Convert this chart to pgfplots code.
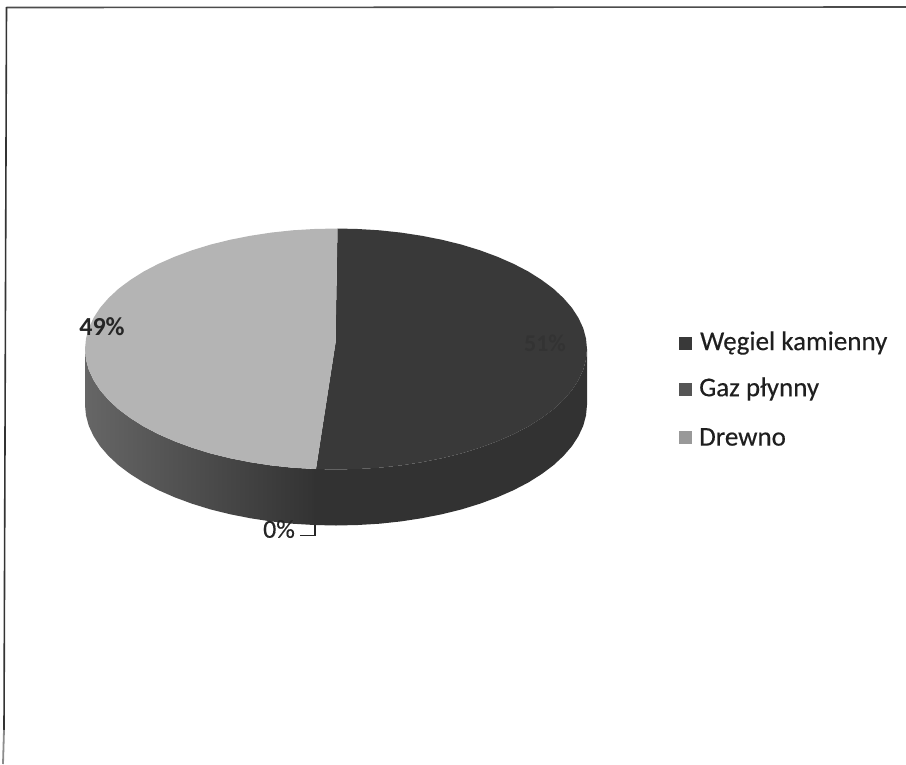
\documentclass[border=0pt]{standalone}
\usepackage{pgfplots}
\pgfplotsset{compat=1.18}
\usepackage{fontspec}
\setmainfont{Carlito}
\newfontfamily\grubszy[FakeBold=0.35]{Carlito}

\definecolor{wegiel}{HTML}{393939}
\definecolor{wegielbok}{HTML}{323232}
\definecolor{gaz}{HTML}{555555}
\definecolor{drewno}{HTML}{B4B4B4}

\begin{document}
\begin{tikzpicture}
\begin{axis}[
    width=906pt, height=764pt,
    scale only axis,
    xmin=0, xmax=906,
    ymin=0, ymax=764,
    y dir=reverse,
    hide axis,
    clip=true,
]

% ramka
\addplot[draw=none, mark=none, forget plot] coordinates {(0,0)(906,764)};
\addplot[color=black!70, line width=1.6pt, mark=none, forget plot]
    coordinates {(6.5,7.5)(906,7)};
\addplot[color=black!80, line width=1.6pt, mark=none, forget plot]
    coordinates {(6.5,7)(4,730)};
\addplot[color=black!45, line width=1.8pt, mark=none, forget plot]
    coordinates {(4,730)(3,764)};

% bok Wegiel kamienny
\addplot[fill=wegielbok, draw=none, mark=none, forget plot] coordinates {
    (587,349)(586,359.5)(583.2,369.9)(578.4,380.2)(571.9,390.2)(563.5,399.9)
    (553.4,409.3)(541.6,418.1)(528.3,426.5)(513.5,434.2)(497.3,441.3)(480,447.7)
    (461.5,453.4)(442.1,458.2)(421.8,462.2)(401,465.4)(379.6,467.7)(357.9,469)
    (336,469.5)(314.1,469)
    (314.1,525)(336,525.5)(357.9,525)(379.6,523.7)(401,521.4)(421.8,518.2)
    (442.1,514.2)(461.5,509.4)(480,503.7)(497.3,497.3)(513.5,490.2)(528.3,482.5)
    (541.6,474.1)(553.4,465.3)(563.5,455.9)(571.9,446.2)(578.4,436.2)(583.2,425.9)
    (586,415.5)(587,405)
};

% bok lewy
\addplot[left color=black!60, right color=black!80, draw=none, mark=none, forget plot] coordinates {
    (314.1,469)(292.4,467.7)(271,465.4)(250.2,462.2)(229.9,458.2)(210.5,453.4)
    (192,447.7)(174.7,441.3)(158.5,434.2)(143.7,426.5)(130.4,418.1)(118.6,409.3)
    (108.5,399.9)(100.1,390.2)(93.6,380.2)(88.8,369.9)(86,359.5)(85,349)
    (85,405)(86,415.5)(88.8,425.9)(93.6,436.2)(100.1,446.2)(108.5,455.9)
    (118.6,465.3)(130.4,474.1)(143.7,482.5)(158.5,490.2)(174.7,497.3)(192,503.7)
    (210.5,509.4)(229.9,514.2)(250.2,518.2)(271,521.4)(292.4,523.7)(314.1,525)
};

% Wegiel kamienny 51%
\addplot[fill=wegiel, draw=none, mark=none, forget plot] coordinates {
    (335.5,343)(337.5,228.5)(357.9,229)(379.6,230.3)(401,232.6)(421.8,235.8)
    (442.1,239.8)(461.5,244.6)(480,250.3)(497.3,256.7)(513.5,263.8)(528.3,271.5)
    (541.6,279.9)(553.4,288.7)(563.5,298.1)(571.9,307.8)(578.4,317.8)(583.2,328.1)
    (586,338.5)(587,349)(586,359.5)(583.2,369.9)(578.4,380.2)(571.9,390.2)
    (563.5,399.9)(553.4,409.3)(541.6,418.1)(528.3,426.5)(513.5,434.2)(497.3,441.3)
    (480,447.7)(461.5,453.4)(442.1,458.2)(421.8,462.2)(401,465.4)(379.6,467.7)
    (357.9,469)(336,469.5)(316,469)
};

% Drewno 49%
\addplot[fill=drewno, draw=none, mark=none, forget plot] coordinates {
    (335.5,343)(337.5,228.5)(336,228.5)(314.1,229)(292.4,230.3)(271,232.6)
    (250.2,235.8)(229.9,239.8)(210.5,244.6)(192,250.3)(174.7,256.7)(158.5,263.8)
    (143.7,271.5)(130.4,279.9)(118.6,288.7)(108.5,298.1)(100.1,307.8)(93.6,317.8)
    (88.8,328.1)(86,338.5)(85,349)(86,359.5)(88.8,369.9)(93.6,380.2)(100.1,390.2)
    (108.5,399.9)(118.6,409.3)(130.4,418.1)(143.7,426.5)(158.5,434.2)(174.7,441.3)
    (192,447.7)(210.5,453.4)(229.9,458.2)(250.2,462.2)(271,465.4)(292.4,467.7)
    (316,469)
};

% linia odniesienia 0%
\addplot[color=black!85, line width=1.8pt, mark=none, forget plot]
    coordinates {(300,535.5)(315,535.5)(315,525)};

% legenda
\addplot[only marks, mark=square*, mark size=6.2pt, color=wegiel, forget plot]
    coordinates {(685,343)};
\addplot[only marks, mark=square*, mark size=6.2pt, color=gaz, forget plot]
    coordinates {(685,389)};
\addplot[only marks, mark=square*, mark size=5.8pt, color=drewno!85!black, forget plot]
    coordinates {(685,437)};

\node[anchor=west, inner sep=0pt, text=black!88, font=\grubszy\fontsize{27}{31}\selectfont] at (axis cs:700,343) {Węgiel kamienny};
\node[anchor=west, inner sep=0pt, text=black!88, font=\grubszy\fontsize{27}{31}\selectfont] at (axis cs:699,389) {Gaz płynny};
\node[anchor=west, inner sep=0pt, text=black!88, font=\grubszy\fontsize{27}{31}\selectfont] at (axis cs:699,437) {Drewno};

% etykiety
\node[inner sep=0pt, text=black!85, font=\bfseries\fontsize{26}{30}\selectfont] at (axis cs:102,327) {49\%};
\node[inner sep=0pt, text=black!85, font=\grubszy\fontsize{26}{30}\selectfont] at (axis cs:279,529) {0\%};
\node[inner sep=0pt, text=black, font=\bfseries\fontsize{24}{28}\selectfont, opacity=0.1] at (axis cs:545,343) {51\%};

\end{axis}
\end{tikzpicture}
\end{document}
